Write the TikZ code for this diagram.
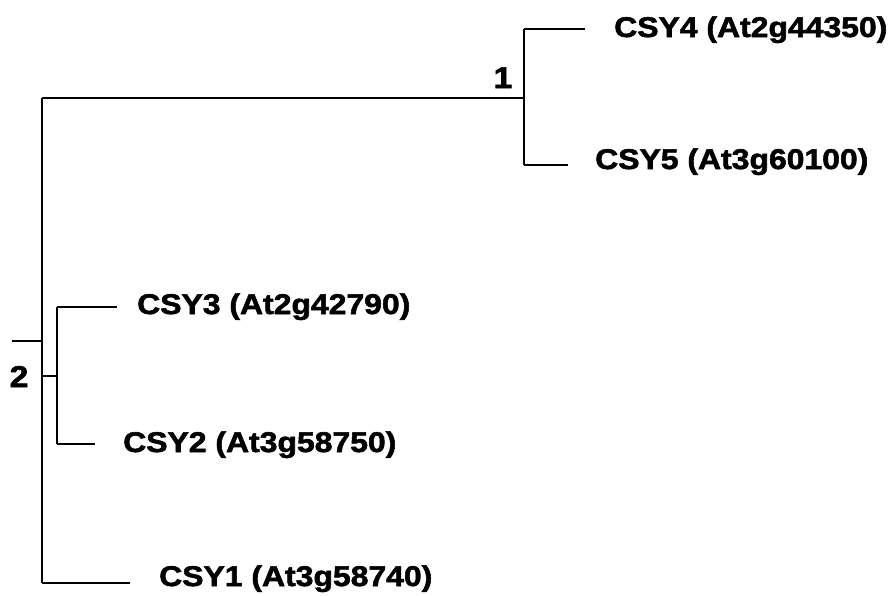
\documentclass[tikz,border=0pt]{standalone}
\usepackage{fontspec}
\setmainfont{Liberation Sans}[FakeStretch=1.12, BoldFeatures={FakeBold=2}]
\tikzset{
  branch/.style={draw=black, line width=1.3pt},
  leaf/.style={anchor=base west, inner sep=0pt, font=\bfseries\fontsize{28.5}{32}\selectfont},
  support/.style={anchor=base, inner sep=0pt, font=\bfseries\fontsize{30}{34}\selectfont},
}
\begin{document}
\begin{tikzpicture}[x=1pt,y=-1pt]
\useasboundingbox (0,0) rectangle (892,595);
% tree coordinates
\coordinate (root) at (42,341);
\coordinate (rootstub) at (12,341);
\coordinate (rtop) at (42,98);
\coordinate (rbot) at (42,583);
\coordinate (c1) at (524,98);
\coordinate (c1t) at (524,29);
\coordinate (c1b) at (524,165);
\coordinate (c2a) at (42,376);
\coordinate (c2) at (57,376);
\coordinate (c2t) at (57,307);
\coordinate (c2b) at (57,444);
\coordinate (e4) at (585,29);
\coordinate (e5) at (568,165);
\coordinate (e3) at (117,307);
\coordinate (e2) at (95,444);
\coordinate (e1) at (130,583);
% labels
\node[leaf] (csy4) at (614,37) {CSY4 (At2g44350)};
\node[leaf] (csy5) at (595,169) {CSY5 (At3g60100)};
\node[leaf] (csy3) at (137,314) {CSY3 (At2g42790)};
\node[leaf] (csy2) at (123,452) {CSY2 (At3g58750)};
\node[leaf] (csy1) at (159,586) {CSY1 (At3g58740)};
\node[support] (s1) at (503,88) {1};
\node[support] (s2) at (19,387) {2};
% branches
\draw[branch] (rootstub) -- (root);
\draw[branch] (rtop) -- (rbot);
\draw[branch] (rtop) -- (c1);
\draw[branch] (c1t) -- (c1b);
\draw[branch] (c1t) -- (e4);
\draw[branch] (c1b) -- (e5);
\draw[branch] (c2a) -- (c2);
\draw[branch] (c2t) -- (c2b);
\draw[branch] (c2t) -- (e3);
\draw[branch] (c2b) -- (e2);
\draw[branch] (rbot) -- (e1);
\end{tikzpicture}
\end{document}
